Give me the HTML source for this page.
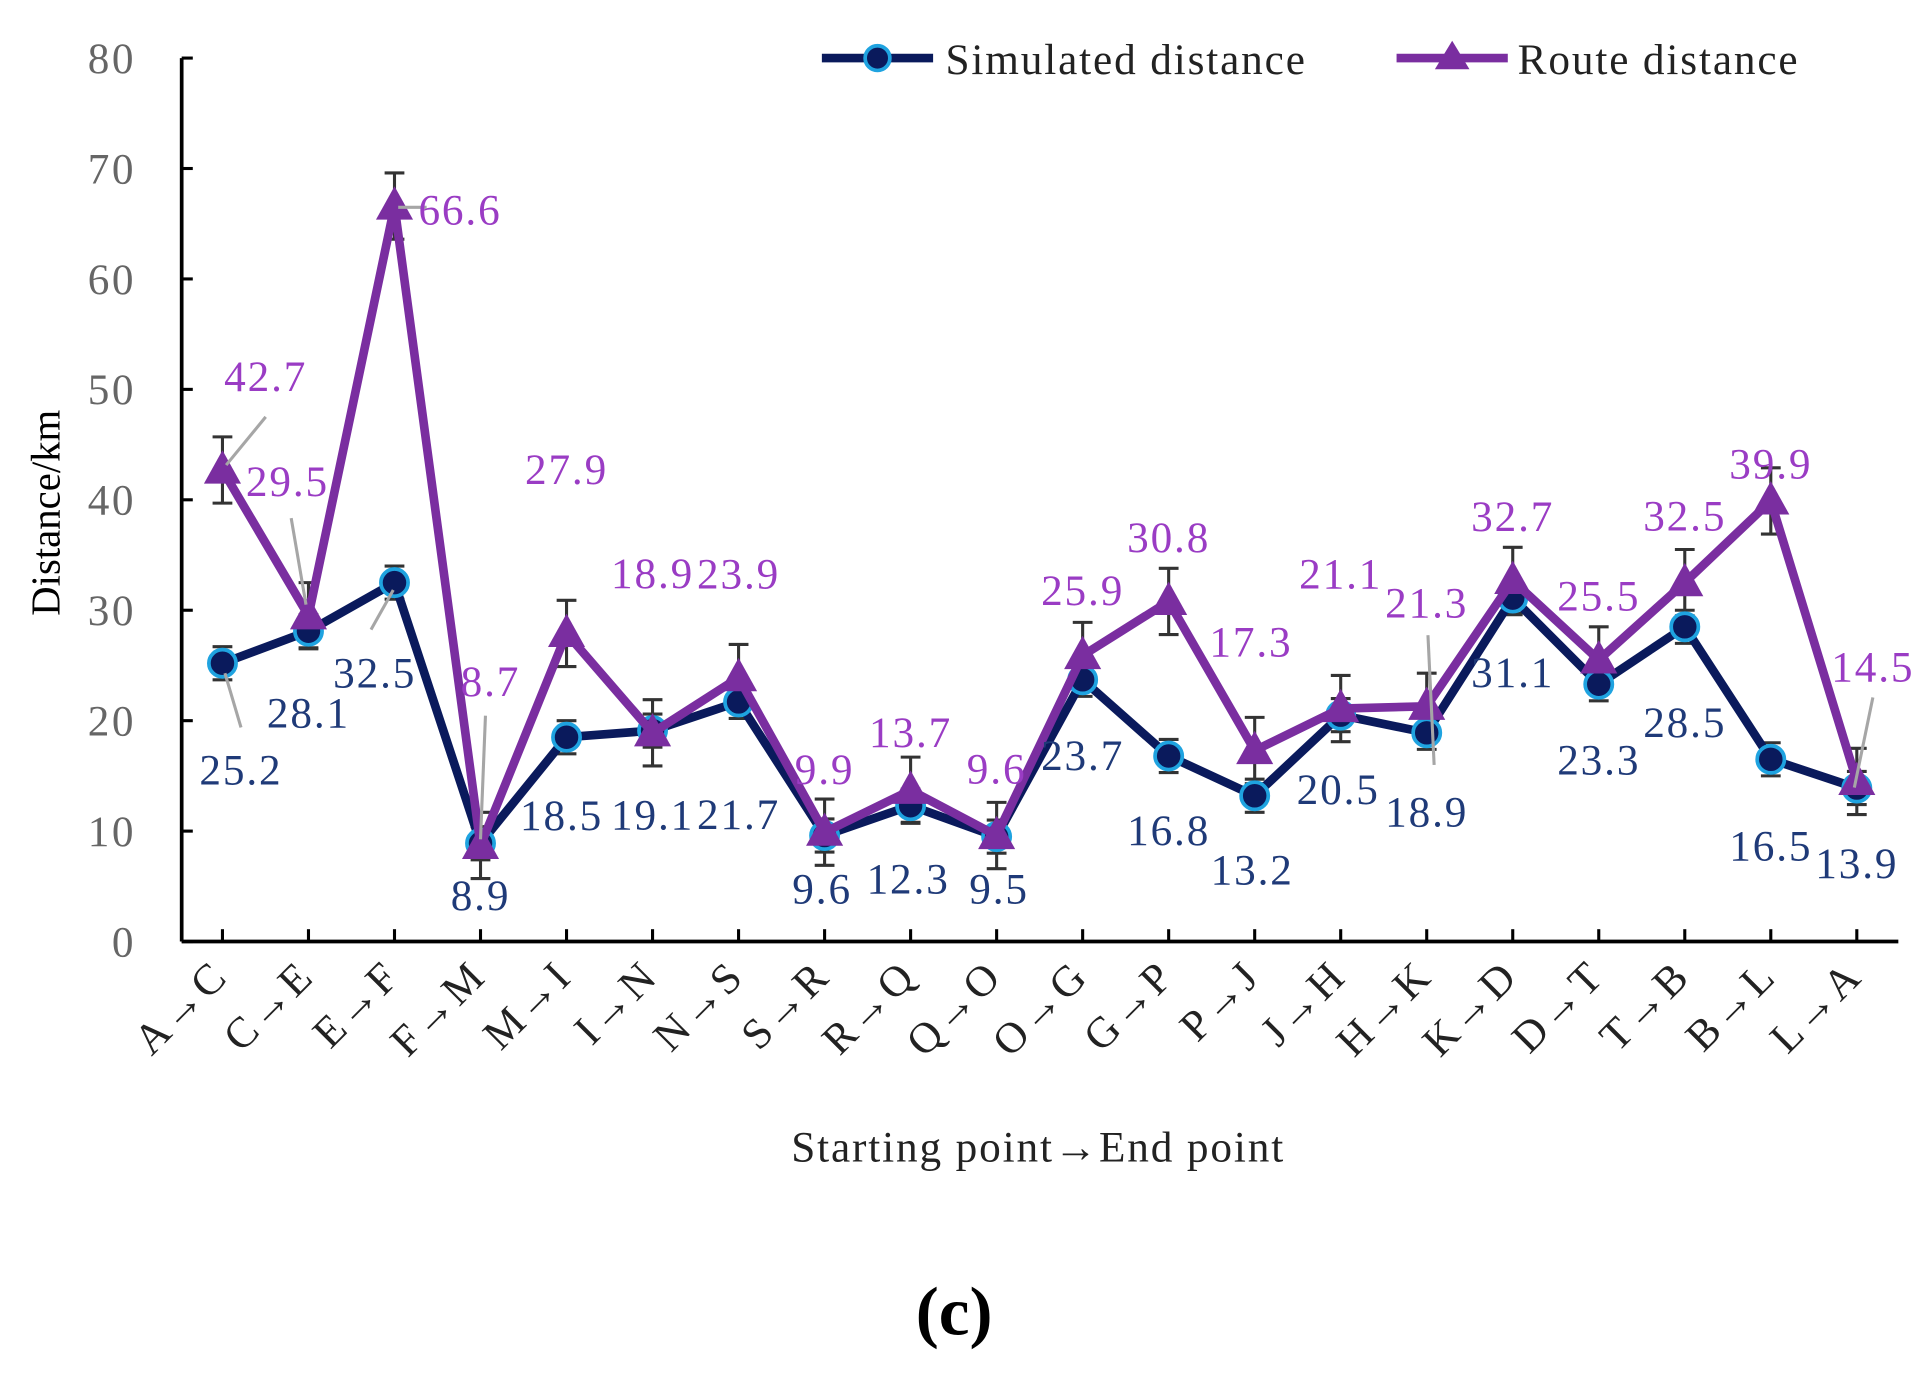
<!DOCTYPE html>
<html><head><meta charset="utf-8"><style>
html,body{margin:0;padding:0;background:#fff;}
svg{display:block;font-family:"Liberation Serif",serif;}
</style></head><body>
<svg id="chart" width="1928" height="1374" viewBox="0 0 1560 1112" preserveAspectRatio="none" xmlns="http://www.w3.org/2000/svg"></svg>
<script>
const categories=["A→C","C→E","E→F","F→M","M→I","I→N","N→S","S→R","R→Q","Q→O","O→G","G→P","P→J","J→H","H→K","K→D","D→T","T→B","B→L","L→A"];
const simulated=[25.2,28.1,32.5,8.9,18.5,19.1,21.7,9.6,12.3,9.5,23.7,16.8,13.2,20.5,18.9,31.1,23.3,28.5,16.5,13.9];
const route=[42.7,29.5,66.6,8.7,27.9,18.9,23.9,9.9,13.7,9.6,25.9,30.8,17.3,21.1,21.3,32.7,25.5,32.5,39.9,14.5];
const simErr=[1.5,1.5,1.5,1.5,1.5,1.5,1.5,1.5,1.5,1.5,1.5,1.5,1.5,1.5,1.5,1.5,1.5,1.5,1.5,1.5];
const routeErr=[3,3,3,3,3,3,3,3,3,3,3,3,3,3,3,3,3,3,3,3];
const yTicks=[0,10,20,30,40,50,60,70,80];
// label offsets (layout, not data)
const simOff=[[15,86],[0,66],[-16,73],[0,42],[-4,63],[0,68],[0,91],[-2,43],[-2,59],[2,42],[0,61],[0,60],[-2,60],[-2,60],[0,64],[0,60],[0,61],[0,77],[0,70],[0,61]];
const routeOff=[[35,-76],[-17,-109],[53,3],[8,-133],[0,-133],[0,-129],[0,-84],[0,-51],[0,-47],[0,-54],[0,-53],[0,-52],[-3,-88],[0,-109],[0,-84],[0,-52],[0,-52],[0,-54],[0,-30],[13,-93]];
const leaders=[[3,-4,35,-43],[-14,-79,-2,-9],[-19,38,-1,6],[3,1,26,1],[4,-105,0,-5],[1,-79,6,26],[13,-68,-2,5]];
const leaderPts=[[0,'r'],[1,'r'],[2,'s'],[2,'r'],[3,'r'],[14,'s'],[19,'r']];
const simLeader=[[0,2,8,15,52]];

const svg=document.getElementById('chart');
const NS='http://www.w3.org/2000/svg';
const X0=180,DX=69.6,Y0=762,Y80=47;
const xs=i=>X0+DX*i;
const ys=v=>Y0-(Y0-Y80)*v/80;
function mk(tag,attrs,parent){const e=document.createElementNS(NS,tag);for(const k in attrs)e.setAttribute(k,attrs[k]);(parent||svg).appendChild(e);return e;}

// axes
let g=mk('g',{});


let a=mk('line',{x1:147,y1:ys(0),x2:1536,y2:ys(0),stroke:'#000','stroke-width':3},g);


a=mk('line',{x1:147,y1:ys(80),x2:147,y2:ys(0),stroke:'#000','stroke-width':3},g);


yTicks.forEach(t=>{
  mk('line',{x1:147,y1:ys(t),x2:156,y2:ys(t),stroke:'#000','stroke-width':2.5},g);
  const tx=mk('text',{x:110,y:ys(t)+12,'text-anchor':'end','font-size':35,'letter-spacing':2,fill:'#666'},g);
  tx.textContent=t;
  
  
});
categories.forEach((c,i)=>{
  mk('line',{x1:xs(i),y1:ys(0),x2:xs(i),y2:ys(0)-10,stroke:'#000','stroke-width':2.5},g);
  const x=xs(i)+6,y=792;
  const tx=mk('text',{x:x,y:y,'text-anchor':'end','font-size':35,'letter-spacing':2,fill:'#222',transform:`rotate(-45 ${x} ${y})`},g);
  tx.textContent=c;
  
  
});
let t=mk('text',{x:840,y:940,'text-anchor':'middle','font-size':35,'letter-spacing':1.5,fill:'#222'});
t.textContent='Starting point→End point';


t=mk('text',{x:48,y:415,'text-anchor':'middle','font-size':33,fill:'#000',transform:'rotate(-90 48 415)'});
t.textContent='Distance/km';


t=mk('text',{x:772,y:1080,'text-anchor':'middle','font-size':56,'font-weight':'bold',fill:'#000'});
t.textContent='(c)';



// error bars
function errBars(vals,errs,name){
  vals.forEach((v,i)=>{
    const eg=mk('g',{stroke:'#333','stroke-width':2.5});
    
    
    const x=xs(i);
    mk('line',{x1:x,y1:ys(v+errs[i]),x2:x,y2:ys(v-errs[i])},eg);
    mk('line',{x1:x-8,y1:ys(v+errs[i]),x2:x+8,y2:ys(v+errs[i])},eg);
    mk('line',{x1:x-8,y1:ys(v-errs[i]),x2:x+8,y2:ys(v-errs[i])},eg);
  });
}
errBars(simulated,simErr,'simulated-error-bar');
errBars(route,routeErr,'route-error-bar');

// lines
let p=mk('polyline',{points:simulated.map((v,i)=>xs(i)+','+ys(v)).join(' '),fill:'none',stroke:'#0a1a5c','stroke-width':7,'stroke-linejoin':'round'});


simulated.forEach((v,i)=>{
  const c=mk('circle',{cx:xs(i),cy:ys(v),r:11,fill:'#0a1a5c',stroke:'#1fa3e0','stroke-width':3});
  
  
});
p=mk('polyline',{points:route.map((v,i)=>xs(i)+','+ys(v)).join(' '),fill:'none',stroke:'#7a2ea0','stroke-width':7,'stroke-linejoin':'round'});


route.forEach((v,i)=>{
  const x=xs(i),y=ys(v);
  const tr=mk('polygon',{points:`${x},${y-16} ${x-15},${y+11} ${x+15},${y+11}`,fill:'#7a2ea0'});
  
  
});

// leader lines
leaderPts.forEach((lp,k)=>{
  const i=lp[0],v=lp[1]==='r'?route[i]:simulated[i];
  const L=leaders[k];
  const l=mk('line',{x1:xs(i)+L[0],y1:ys(v)+L[1],x2:xs(i)+L[2],y2:ys(v)+L[3],stroke:'#a6a6a6','stroke-width':2.5});
  
  
});
simLeader.forEach(L=>{
  const i=L[0];
  const l=mk('line',{x1:xs(i)+L[1],y1:ys(simulated[i])+L[2],x2:xs(i)+L[3],y2:ys(simulated[i])+L[4],stroke:'#a6a6a6','stroke-width':2.5});
  
  
});

// data labels
simulated.forEach((v,i)=>{
  const tx=mk('text',{x:xs(i)+simOff[i][0],y:ys(v)+simOff[i][1]+12,'text-anchor':'middle','font-size':35,'letter-spacing':1.5,fill:'#1f3a78'});
  tx.textContent=v.toFixed(1);
  
  
});
route.forEach((v,i)=>{
  const tx=mk('text',{x:xs(i)+routeOff[i][0],y:ys(v)+routeOff[i][1]+12,'text-anchor':'middle','font-size':35,'letter-spacing':1.5,fill:'#9a3cc4'});
  tx.textContent=v.toFixed(1);
  
  
});

// legend
const lg=mk('g',{});


const l1=mk('g',{},lg);


mk('line',{x1:665,y1:47,x2:755,y2:47,stroke:'#0a1a5c','stroke-width':7},l1);
mk('circle',{cx:710,cy:47,r:10,fill:'#0a1a5c',stroke:'#1fa3e0','stroke-width':3},l1);
let lt=mk('text',{x:765,y:60,'font-size':35,'letter-spacing':1.5,fill:'#222'},l1);lt.textContent='Simulated distance';
const l2=mk('g',{},lg);


mk('line',{x1:1130,y1:47,x2:1220,y2:47,stroke:'#7a2ea0','stroke-width':7},l2);
mk('polygon',{points:'1175,33 1161,56 1189,56',fill:'#7a2ea0'},l2);
lt=mk('text',{x:1228,y:60,'font-size':35,'letter-spacing':1.5,fill:'#222'},l2);lt.textContent='Route distance';
</script>
</body></html>
